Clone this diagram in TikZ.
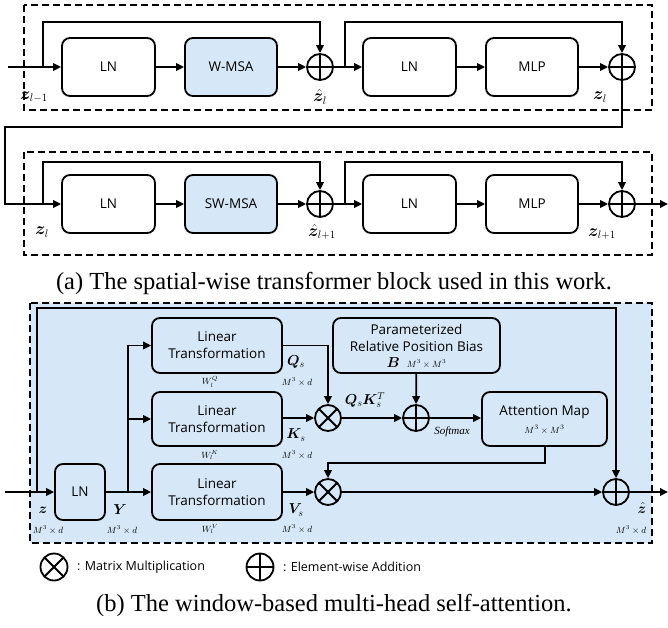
\documentclass[tikz,border=0pt]{standalone}
\usepackage{fontspec}
\usepackage{bm}
\setmainfont{Liberation Serif}
\setsansfont{Open Sans}
\usetikzlibrary{arrows.meta}
\definecolor{lblue}{RGB}{214,232,247}
\tikzset{
  lw/.style={line width=1.8pt},
  blk/.style={draw, lw, rounded corners=8pt, inner sep=0pt, align=center,
    font=\sffamily\fontsize{13.5}{17}\selectfont},
  abox/.style={blk, minimum width=93pt, minimum height=58pt},
  bbox/.style={blk, fill=lblue},
  arr/.style={lw, -{Triangle[length=8pt,width=7.5pt]}},
  dbox/.style={draw, lw, dash pattern=on 7pt off 4pt},
  opl/.style={circle, draw, lw, minimum size=26pt, inner sep=0pt,
    path picture={\draw[lw] (path picture bounding box.north) -- (path picture bounding box.south)
      (path picture bounding box.west) -- (path picture bounding box.east);}},
  otm/.style={circle, draw, lw, minimum size=26pt, inner sep=0pt,
    path picture={\draw[lw] (path picture bounding box.north west) -- (path picture bounding box.south east)
      (path picture bounding box.south west) -- (path picture bounding box.north east);}},
  laba/.style={inner sep=0pt, font=\fontsize{16}{18}\selectfont},
  lab/.style={inner sep=0pt, font=\fontsize{14.5}{16}\selectfont},
  sm/.style={inner sep=0pt, font=\fontsize{9}{10}\selectfont},
  captn/.style={inner sep=0pt, font=\rmfamily\fontsize{24.5}{28}\selectfont},
  leg/.style={inner sep=0pt, anchor=west, font=\sffamily\fontsize{12.5}{15}\selectfont}
}
\begin{document}
\begin{tikzpicture}[x=1pt,y=-1pt]
\useasboundingbox (0,0) rectangle (668,627);
% ---------------- (a) block 1
\draw[dbox] (24,5) rectangle (652,110);
\node[abox] (ln1) at (108.5,67) {LN};
\node[abox, fill=lblue, minimum width=92pt] (wmsa) at (231,67) {W-MSA};
\node[opl] (p1) at (320,67) {};
\node[abox] (ln2) at (409.5,67) {LN};
\node[abox, minimum width=92pt] (mlp) at (532,67) {MLP};
\node[opl] (p2) at (622,67) {};
\coordinate (in1) at (8,67);
\coordinate (s1) at (43,67);
\coordinate (s2) at (345,67);
\draw[arr] (in1) -- (ln1);
\draw[arr] (ln1) -- (wmsa);
\draw[arr] (wmsa) -- (p1);
\draw[arr] (s1) |- (320,22) -- (p1.north);
\draw[arr] (p1) -- (ln2);
\draw[arr] (ln2) -- (mlp);
\draw[arr] (mlp) -- (p2);
\draw[arr] (s2) |- (622,22) -- (p2.north);
\node[laba] (za) at (34,97) {$\bm{z}_{l-1}$};
\node[laba] (zha) at (320,97) {$\hat{\bm{z}}_{l}$};
\node[laba] (zb) at (600,97) {$\bm{z}_{l}$};
% ---------------- (a) block 2
\draw[dbox] (24,152) rectangle (652,255);
\node[abox] (ln3) at (108.5,204) {LN};
\node[abox, fill=lblue, minimum width=92pt] (swmsa) at (231,204) {SW-MSA};
\node[opl] (p3) at (320,204) {};
\node[abox] (ln4) at (409.5,204) {LN};
\node[abox, minimum width=92pt] (mlp2) at (532,204) {MLP};
\node[opl] (p4) at (622,204) {};
\coordinate (s3) at (43,204);
\coordinate (s4) at (345,204);
\coordinate (out1) at (668,204);
\draw[arr] (p2.center) -- (622,127) -- (5,127) -- (5,204) -- (ln3);
\draw[arr] (ln3) -- (swmsa);
\draw[arr] (swmsa) -- (p3);
\draw[arr] (s3) |- (320,162) -- (p3.north);
\draw[arr] (p3) -- (ln4);
\draw[arr] (ln4) -- (mlp2);
\draw[arr] (mlp2) -- (p4);
\draw[arr] (s4) |- (622,162) -- (p4.north);
\draw[arr] (p4) -- (out1);
\node[laba] (zc) at (42,232) {$\bm{z}_{l}$};
\node[laba] (zhc) at (322,232) {$\hat{\bm{z}}_{l+1}$};
\node[laba] (zd) at (602,234) {$\bm{z}_{l+1}$};
\node[captn] (capa) at (334,283) {(a) The spatial-wise transformer block used in this work.};
% ---------------- (b)
\draw[dbox, fill=lblue] (30,303) rectangle (652,543);
\node[bbox, minimum width=50pt, minimum height=56pt] (lnb) at (80,492) {LN};
\node[bbox, minimum width=130pt, minimum height=55pt] (lq) at (217,345.5) {Linear\\Transformation};
\node[bbox, minimum width=130pt, minimum height=54pt] (lk) at (217,419) {Linear\\Transformation};
\node[bbox, minimum width=130pt, minimum height=56pt] (lv) at (217,492) {Linear\\Transformation};
\node[otm] (m1) at (328,418) {};
\node[otm] (m2) at (328,492) {};
\node[opl] (pb) at (416,418) {};
\node[bbox, minimum width=167pt, minimum height=55pt] (bias) at (416.5,345.5) {};
\node[inner sep=0pt, align=center, font=\sffamily\fontsize{13.5}{17}\selectfont] (biast) at (416.5,338) {Parameterized\\Relative Position Bias};
\node[inner sep=0pt, font=\fontsize{14}{16}\selectfont] (biasb) at (416.5,363) {$\bm{B}$\ \ {\fontsize{9}{10}\selectfont$M^3\times M^3$}};
\node[bbox, minimum width=125pt, minimum height=54pt] (att) at (544.5,419) {};
\node[inner sep=0pt, font=\sffamily\fontsize{13.5}{15}\selectfont] (attt) at (544.5,412) {Attention Map};
\node[inner sep=0pt, font=\fontsize{9.5}{10}\selectfont] (atts) at (544.5,430) {$M^3\times M^3$};
\node[opl] (pf) at (616,492) {};
\coordinate (inb) at (5,492);
\coordinate (sb) at (37,492);
\coordinate (yb) at (128,492);
\coordinate (outb) at (668,492);
\coordinate (attb) at (545,446);
\draw[arr] (inb) -- (lnb);
\draw[arr] (sb) |- (616,308) -- (pf.north);
\draw[arr] (lnb) -- (lv);
\draw[arr] (yb) |- (lq.west);
\draw[arr] (128,419) -- (lk.west);
\draw[arr] (lq.east) -| (m1.north);
\draw[arr] (lk.east |- m1) -- (m1);
\draw[arr] (lv) -- (m2);
\draw[arr] (m1) -- (pb);
\draw[arr] (bias) -- (pb);
\draw[arr] (pb) -- (att.west |- pb);
\draw[arr] (attb) -- (545,463) -- (328,463) -- (m2.north);
\draw[arr] (m2) -- (pf);
\draw[arr] (pf) -- (outb);
% labels (b)
\node[lab] (qs) at (296,362) {$\bm{Q}_s$};
\node[sm] (wq) at (210,382) {$W_l^Q$};
\node[sm] (dq) at (297,382) {$M^3\times d$};
\node[lab] (ks) at (296,435) {$\bm{K}_s$};
\node[sm] (wk) at (210,455) {$W_l^K$};
\node[sm] (dk) at (297,455) {$M^3\times d$};
\node[lab] (vs) at (296,510) {$\bm{V}_s$};
\node[sm] (wv) at (210,529) {$W_l^V$};
\node[sm] (dv) at (297,529) {$M^3\times d$};
\node[lab] (zz) at (43,510) {$\bm{z}$};
\node[sm] (dz) at (48,530) {$M^3\times d$};
\node[lab] (yy) at (120,510) {$\bm{Y}$};
\node[sm] (dy) at (122,530) {$M^3\times d$};
\node[lab] (qk) at (365,400) {$\bm{Q}_s\bm{K}_s^T$};
\node[inner sep=0pt, font=\fontsize{11}{12}\selectfont] (soft) at (452,432) {$\mathit{Softmax}$};
\node[lab] (zh) at (642,508) {$\hat{\bm{z}}$};
\node[sm] (dzh) at (631,530) {$M^3\times d$};
% legend
\node[otm, minimum size=27pt] (lm) at (54,567) {};
\node[leg] (lmt) at (77,567) {: Matrix Multiplication};
\node[opl, minimum size=27pt] (lp) at (260,567) {};
\node[leg] (lpt) at (283,567) {: Element-wise Addition};
\node[captn] (capb) at (334,605) {(b) The window-based multi-head self-attention.};
\end{tikzpicture}
\end{document}
